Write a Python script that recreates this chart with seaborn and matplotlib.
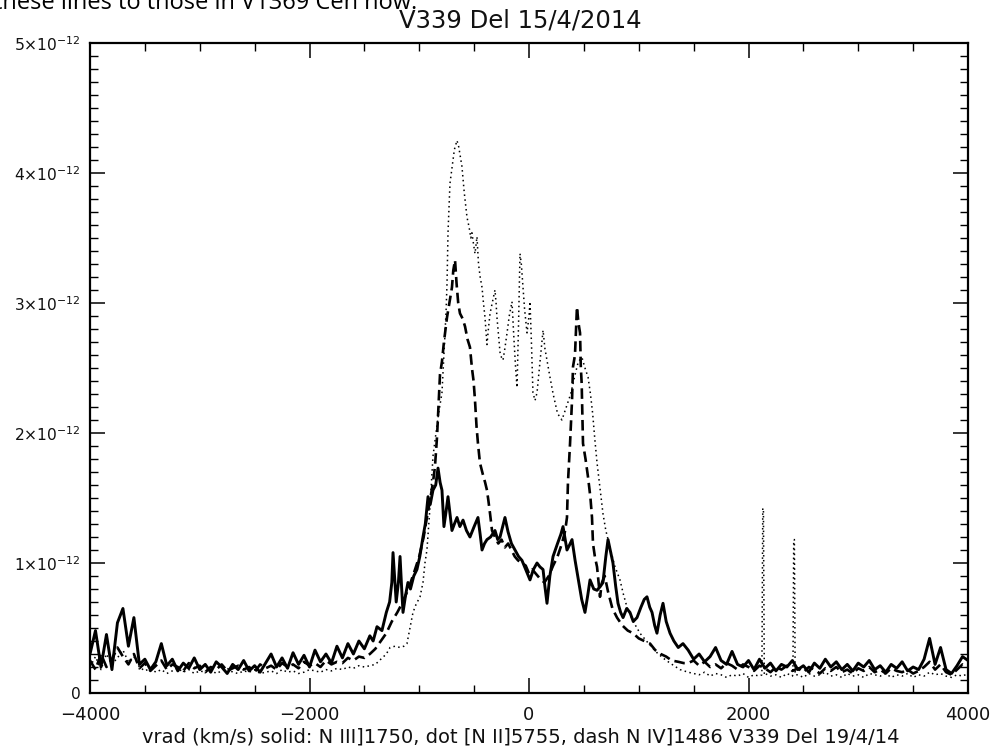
import numpy as np
import pandas as pd
import matplotlib
matplotlib.use("Agg")
import matplotlib.pyplot as plt
from matplotlib.ticker import MultipleLocator, FixedLocator, FixedFormatter
import seaborn as sns

# Flux values are in units of 1e-12, velocities in km/s
UNIT = 1e-12

# Shared sampling of the line wings
BLUE_V = [-4000, -3950, -3900, -3850, -3800, -3750, -3700, -3650, -3600, -3550,
          -3500, -3450, -3400, -3350, -3300, -3250, -3200, -3150, -3100, -3050,
          -3000, -2950, -2900, -2850, -2800, -2750, -2700, -2650, -2600, -2550,
          -2500, -2450, -2400, -2350, -2300, -2250, -2200, -2150, -2100, -2050,
          -2000, -1950, -1900, -1850, -1800, -1750, -1700, -1650, -1600, -1550,
          -1500, -1450]
RED_V = [1450, 1500, 1550, 1600, 1650, 1700, 1750, 1800, 1850, 1900,
         1950, 2000, 2050, 2100, 2150, 2200, 2250, 2300, 2350, 2400,
         2450, 2500, 2550, 2600, 2650, 2700, 2750, 2800, 2850, 2900,
         2950, 3000, 3050, 3100, 3150, 3200, 3250, 3300, 3350, 3400,
         3450, 3500, 3550, 3600, 3650, 3700, 3750, 3800, 3850, 3900,
         3950, 4000]

# N III] 1750 (solid)
SOLID_BLUE_F = [0.30, 0.48, 0.20, 0.45, 0.18, 0.54, 0.65, 0.36, 0.58, 0.22,
                0.26, 0.18, 0.24, 0.38, 0.21, 0.26, 0.17, 0.23, 0.19, 0.27,
                0.18, 0.22, 0.16, 0.24, 0.20, 0.15, 0.22, 0.18, 0.25, 0.17,
                0.21, 0.16, 0.23, 0.30, 0.20, 0.27, 0.19, 0.31, 0.22, 0.29,
                0.20, 0.33, 0.24, 0.30, 0.23, 0.36, 0.27, 0.38, 0.30, 0.40,
                0.34, 0.44]
SOLID_CORE_V = [-1420, -1385, -1340, -1300, -1270, -1250, -1239, -1225, -1210, -1190,
                -1175, -1160, -1148, -1125, -1103, -1080, -1050, -1021, -995, -966,
                -945, -920, -900, -875, -850, -829, -810, -793, -775, -755,
                -738, -720, -702, -680, -656, -630, -601, -570, -538, -500,
                -465, -445, -428, -405, -383, -350, -310, -285, -264, -240,
                -219, -191, -160, -128, -95, -64, -30, 9, 40, 73,
                100, 128, 145, 164, 190, 219, 260, 290, 310, 330,
                346, 370, 392, 420, 446, 480, 510, 535, 556, 590,
                620, 650, 674, 700, 720, 745, 765, 790, 811, 835,
                857, 890, 920, 950, 984, 1020, 1050, 1075, 1100, 1121,
                1145, 1166, 1195, 1221, 1250, 1285, 1320, 1360, 1403]
SOLID_CORE_F = [0.40, 0.51, 0.48, 0.62, 0.70, 0.85, 1.08, 0.90, 0.70, 0.85,
                1.05, 0.80, 0.62, 0.75, 0.85, 0.80, 0.90, 0.95, 1.05, 1.20,
                1.30, 1.51, 1.45, 1.56, 1.60, 1.73, 1.62, 1.56, 1.28, 1.40,
                1.51, 1.38, 1.25, 1.30, 1.35, 1.28, 1.33, 1.25, 1.20, 1.28,
                1.35, 1.22, 1.10, 1.15, 1.18, 1.20, 1.25, 1.18, 1.20, 1.28,
                1.35, 1.24, 1.15, 1.10, 1.05, 1.02, 0.95, 0.87, 0.95, 1.00,
                0.97, 0.95, 0.82, 0.69, 0.90, 1.05, 1.15, 1.22, 1.28, 1.18,
                1.10, 1.14, 1.18, 1.02, 0.89, 0.72, 0.62, 0.75, 0.87, 0.80,
                0.79, 0.82, 0.85, 1.05, 1.18, 1.08, 1.00, 0.82, 0.69, 0.62,
                0.58, 0.65, 0.62, 0.55, 0.58, 0.66, 0.72, 0.74, 0.66, 0.62,
                0.52, 0.46, 0.60, 0.69, 0.55, 0.46, 0.40, 0.35, 0.38]
SOLID_RED_F = [0.33, 0.26, 0.30, 0.24, 0.28, 0.35, 0.25, 0.22, 0.32, 0.22,
               0.20, 0.25, 0.18, 0.26, 0.19, 0.23, 0.17, 0.22, 0.20, 0.25,
               0.18, 0.21, 0.16, 0.23, 0.19, 0.26, 0.20, 0.24, 0.18, 0.22,
               0.17, 0.23, 0.20, 0.25, 0.18, 0.21, 0.16, 0.22, 0.19, 0.24,
               0.17, 0.20, 0.18, 0.26, 0.42, 0.22, 0.35, 0.18, 0.15, 0.21,
               0.28, 0.25]

# [N II] 5755 (dotted)
DOT_BLUE_F = [0.20, 0.28, 0.18, 0.30, 0.22, 0.27, 0.33, 0.24, 0.28, 0.20,
              0.17, 0.19, 0.16, 0.18, 0.15, 0.17, 0.19, 0.16, 0.18, 0.15,
              0.17, 0.16, 0.18, 0.15, 0.17, 0.19, 0.16, 0.15, 0.17, 0.16,
              0.18, 0.15, 0.16, 0.17, 0.15, 0.18, 0.16, 0.17, 0.15, 0.16,
              0.18, 0.17, 0.16, 0.18, 0.17, 0.19, 0.18, 0.20, 0.19, 0.21,
              0.20, 0.21]
DOT_CORE_V = [-1400, -1350, -1300, -1266, -1220, -1175, -1140, -1112, -1085, -1057,
              -1030, -993, -966, -948, -930, -902, -875, -850, -829, -810,
              -793, -775, -765, -755, -747, -738, -720, -700, -680, -656,
              -640, -625, -611, -590, -565, -545, -530, -520, -505, -492,
              -474, -460, -445, -428, -415, -401, -383, -370, -355, -335,
              -310, -300, -292, -278, -264, -250, -237, -220, -200, -180,
              -155, -145, -137, -122, -109, -95, -82, -70, -55, -40,
              -18, 0, 9, 22, 36, 55, 73, 100, 128, 145,
              164, 191, 220, 260, 300, 340, 380, 420, 450, 483,
              510, 538, 560, 580, 600, 620, 650, 674, 700, 738,
              780, 829, 860, 893, 950, 1011, 1090, 1166, 1220, 1285,
              1376]
DOT_CORE_F = [0.22, 0.26, 0.30, 0.35, 0.36, 0.35, 0.36, 0.38, 0.50, 0.62,
              0.68, 0.74, 0.85, 1.00, 1.10, 1.43, 1.82, 1.98, 2.12, 2.22,
              2.31, 2.60, 2.77, 2.95, 3.15, 3.54, 3.92, 4.05, 4.18, 4.25,
              4.20, 4.12, 4.05, 3.85, 3.66, 3.58, 3.50, 3.54, 3.45, 3.38,
              3.51, 3.30, 3.20, 3.12, 3.00, 2.89, 2.68, 2.80, 2.92, 3.00,
              3.10, 3.00, 2.89, 2.75, 2.62, 2.58, 2.56, 2.65, 2.77, 2.90,
              3.01, 2.85, 2.72, 2.50, 2.35, 2.85, 3.38, 3.30, 3.12, 2.95,
              2.77, 2.90, 3.01, 2.70, 2.31, 2.25, 2.31, 2.55, 2.79, 2.65,
              2.56, 2.43, 2.30, 2.15, 2.10, 2.20, 2.30, 2.45, 2.55, 2.58,
              2.50, 2.43, 2.30, 2.15, 1.95, 1.77, 1.55, 1.38, 1.25, 1.12,
              0.98, 0.87, 0.76, 0.66, 0.55, 0.46, 0.38, 0.31, 0.27, 0.23,
              0.18]
DOT_RED_F = [0.16, 0.15, 0.14, 0.16, 0.13, 0.15, 0.14, 0.12, 0.14, 0.13,
             0.15, 0.12, 0.14, 0.13, 0.15, 0.13, 0.14, 0.12, 0.15, 0.13,
             0.14, 0.12, 0.15, 0.13, 0.14, 0.16, 0.13, 0.14, 0.12, 0.15,
             0.13, 0.14, 0.12, 0.15, 0.14, 0.13, 0.15, 0.12, 0.14, 0.13,
             0.15, 0.12, 0.14, 0.13, 0.16, 0.14, 0.15, 0.13, 0.12, 0.14,
             0.13, 0.15]
# two narrow spikes in the red wing of [N II]
DOT_SPIKE_V = [2122, 2130, 2136, 2144, 2405, 2412, 2418, 2425]
DOT_SPIKE_F = [0.14, 1.42, 1.42, 0.14, 0.15, 1.18, 1.18, 0.14]

# N IV] 1486 (dashed)
DASH_BLUE_F = [0.25, 0.18, 0.30, 0.20, 0.26, 0.35, 0.28, 0.22, 0.30, 0.19,
               0.23, 0.17, 0.21, 0.25, 0.18, 0.22, 0.20, 0.17, 0.23, 0.19,
               0.21, 0.16, 0.20, 0.18, 0.22, 0.17, 0.19, 0.21, 0.18, 0.20,
               0.16, 0.22, 0.19, 0.21, 0.18, 0.23, 0.20, 0.22, 0.19, 0.24,
               0.21, 0.23, 0.20, 0.25, 0.22, 0.24, 0.23, 0.27, 0.25, 0.28,
               0.27, 0.30]
DASH_CORE_V = [-1400, -1350, -1300, -1250, -1200, -1150, -1100, -1050, -1000, -960,
               -930, -902, -875, -857, -838, -825, -811, -793, -775, -765,
               -747, -725, -702, -690, -674, -660, -645, -629, -605, -583,
               -560, -538, -520, -505, -492, -478, -465, -447, -420, -400,
               -383, -370, -355, -337, -310, -280, -250, -220, -190, -160,
               -130, -100, -64, -30, 0, 30, 60, 100, 140, 180,
               220, 260, 300, 330, 346, 355, 374, 392, 401, 419,
               437, 450, 465, 472, 480, 492, 515, 538, 560, 574,
               583, 600, 620, 647, 665, 690, 720, 760, 802, 850,
               900, 948, 1000, 1050, 1103, 1150, 1200, 1250, 1300, 1360,
               1410]
DASH_CORE_F = [0.34, 0.40, 0.46, 0.55, 0.62, 0.70, 0.80, 0.92, 1.05, 1.20,
               1.35, 1.48, 1.62, 1.74, 1.97, 2.20, 2.45, 2.55, 2.70, 2.77,
               2.89, 3.00, 3.12, 3.25, 3.33, 3.15, 3.00, 2.92, 2.88, 2.82,
               2.72, 2.66, 2.50, 2.40, 2.25, 2.05, 1.92, 1.77, 1.68, 1.62,
               1.56, 1.48, 1.38, 1.25, 1.20, 1.15, 1.18, 1.12, 1.15, 1.10,
               1.05, 1.02, 1.00, 0.98, 0.92, 0.95, 0.92, 0.88, 0.85, 0.90,
               0.98, 1.05, 1.15, 1.25, 1.35, 1.62, 1.92, 2.25, 2.51, 2.60,
               2.97, 2.85, 2.77, 2.51, 2.38, 1.92, 1.80, 1.66, 1.50, 1.35,
               1.15, 1.05, 0.97, 0.74, 0.85, 0.90, 0.78, 0.65, 0.58, 0.52,
               0.48, 0.46, 0.42, 0.40, 0.38, 0.33, 0.30, 0.28, 0.25, 0.24,
               0.23]
DASH_RED_F = [0.23, 0.25, 0.21, 0.24, 0.20, 0.22, 0.19, 0.23, 0.21, 0.18,
              0.22, 0.20, 0.17, 0.21, 0.19, 0.16, 0.20, 0.18, 0.21, 0.17,
              0.19, 0.16, 0.20, 0.18, 0.15, 0.19, 0.17, 0.20, 0.16, 0.18,
              0.15, 0.19, 0.17, 0.20, 0.16, 0.18, 0.15, 0.19, 0.17, 0.16,
              0.18, 0.15, 0.17, 0.20, 0.24, 0.18, 0.22, 0.16, 0.14, 0.18,
              0.22, 0.20]

Y_TICKS = [0, 1, 2, 3, 4, 5]
Y_TICK_LABELS = ["0", r"$1{\times}10^{-12}$", r"$2{\times}10^{-12}$", r"$3{\times}10^{-12}$",
                 r"$4{\times}10^{-12}$", r"$5{\times}10^{-12}$"]
X_TICKS = [-4000, -2000, 0, 2000, 4000]
X_TICK_LABELS = ["\u22124000", "\u22122000", "0", "2000", "4000"]

TITLE = "V339 Del 15/4/2014"
XLABEL = "vrad (km/s) solid: N III]1750, dot [N II]5755, dash N IV]1486 V339 Del 19/4/14"
HEADER = "these lines to those in V1369 Cen now."


def spectrum(parts_v, parts_f):
    v = np.concatenate([np.asarray(p, float) for p in parts_v])
    f = np.concatenate([np.asarray(p, float) for p in parts_f])
    order = np.argsort(v, kind="stable")
    return pd.DataFrame({"v": v[order], "flux": f[order] * UNIT})


solid = spectrum([BLUE_V, SOLID_CORE_V, RED_V], [SOLID_BLUE_F, SOLID_CORE_F, SOLID_RED_F])
dotted = spectrum([BLUE_V, DOT_CORE_V, RED_V, DOT_SPIKE_V],
                  [DOT_BLUE_F, DOT_CORE_F, DOT_RED_F, DOT_SPIKE_F])
dashed = spectrum([BLUE_V, DASH_CORE_V, RED_V], [DASH_BLUE_F, DASH_CORE_F, DASH_RED_F])

sns.set_theme(style="ticks")
plt.rcParams["font.family"] = ["DejaVu Sans"]
plt.rcParams["mathtext.fontset"] = "dejavusans"

W, H = 991, 747
fig = plt.figure(figsize=(W / 100, H / 100), dpi=100)
fig.patch.set_facecolor("white")
ax = fig.add_axes([90 / W, 1 - 693 / H, 878 / W, 650 / H])
ax.set_facecolor("white")

sns.lineplot(data=dotted, x="v", y="flux", ax=ax, color="black", linewidth=1.1,
             linestyle=(0, (1, 2.2)), estimator=None, sort=False)
sns.lineplot(data=dashed, x="v", y="flux", ax=ax, color="black", linewidth=1.9,
             linestyle=(0, (4, 2)), estimator=None, sort=False)
sns.lineplot(data=solid, x="v", y="flux", ax=ax, color="black", linewidth=2.1,
             estimator=None, sort=False)

ax.set_xlim(-4000, 4000)
ax.set_ylim(0, 5 * UNIT)

ax.xaxis.set_major_locator(FixedLocator(X_TICKS))
ax.xaxis.set_major_formatter(FixedFormatter(X_TICK_LABELS))
ax.xaxis.set_minor_locator(MultipleLocator(500))
ax.yaxis.set_major_locator(FixedLocator([t * UNIT for t in Y_TICKS]))
ax.yaxis.set_major_formatter(FixedFormatter(Y_TICK_LABELS))
ax.yaxis.set_minor_locator(MultipleLocator(0.1 * UNIT))

ax.tick_params(which="both", direction="in", top=True, right=True, color="black",
               labelcolor="#111111")
ax.tick_params(axis="x", which="major", labelsize=13, pad=9)
ax.tick_params(axis="y", which="major", labelsize=11.2, pad=7)
ax.tick_params(which="major", length=11, width=1.1)
ax.tick_params(which="minor", length=5.5, width=1.0)
for s in ax.spines.values():
    s.set_linewidth(1.6)
    s.set_color("black")

ax.set_xlabel("")
ax.set_ylabel("")
fig.text(0.525, 1 - 20 / H, TITLE, ha="center", va="center", fontsize=17.5, color="#111111")
fig.text(0.525, 1 - 737 / H, XLABEL, ha="center", va="center", fontsize=14, color="#111111")
fig.text(-0.006, 1 - 9 / H, HEADER, ha="left", va="baseline", fontsize=17,
         family=["Open Sans", "DejaVu Sans"], color="black")

fig.savefig("out.png", dpi=100, facecolor="white")
